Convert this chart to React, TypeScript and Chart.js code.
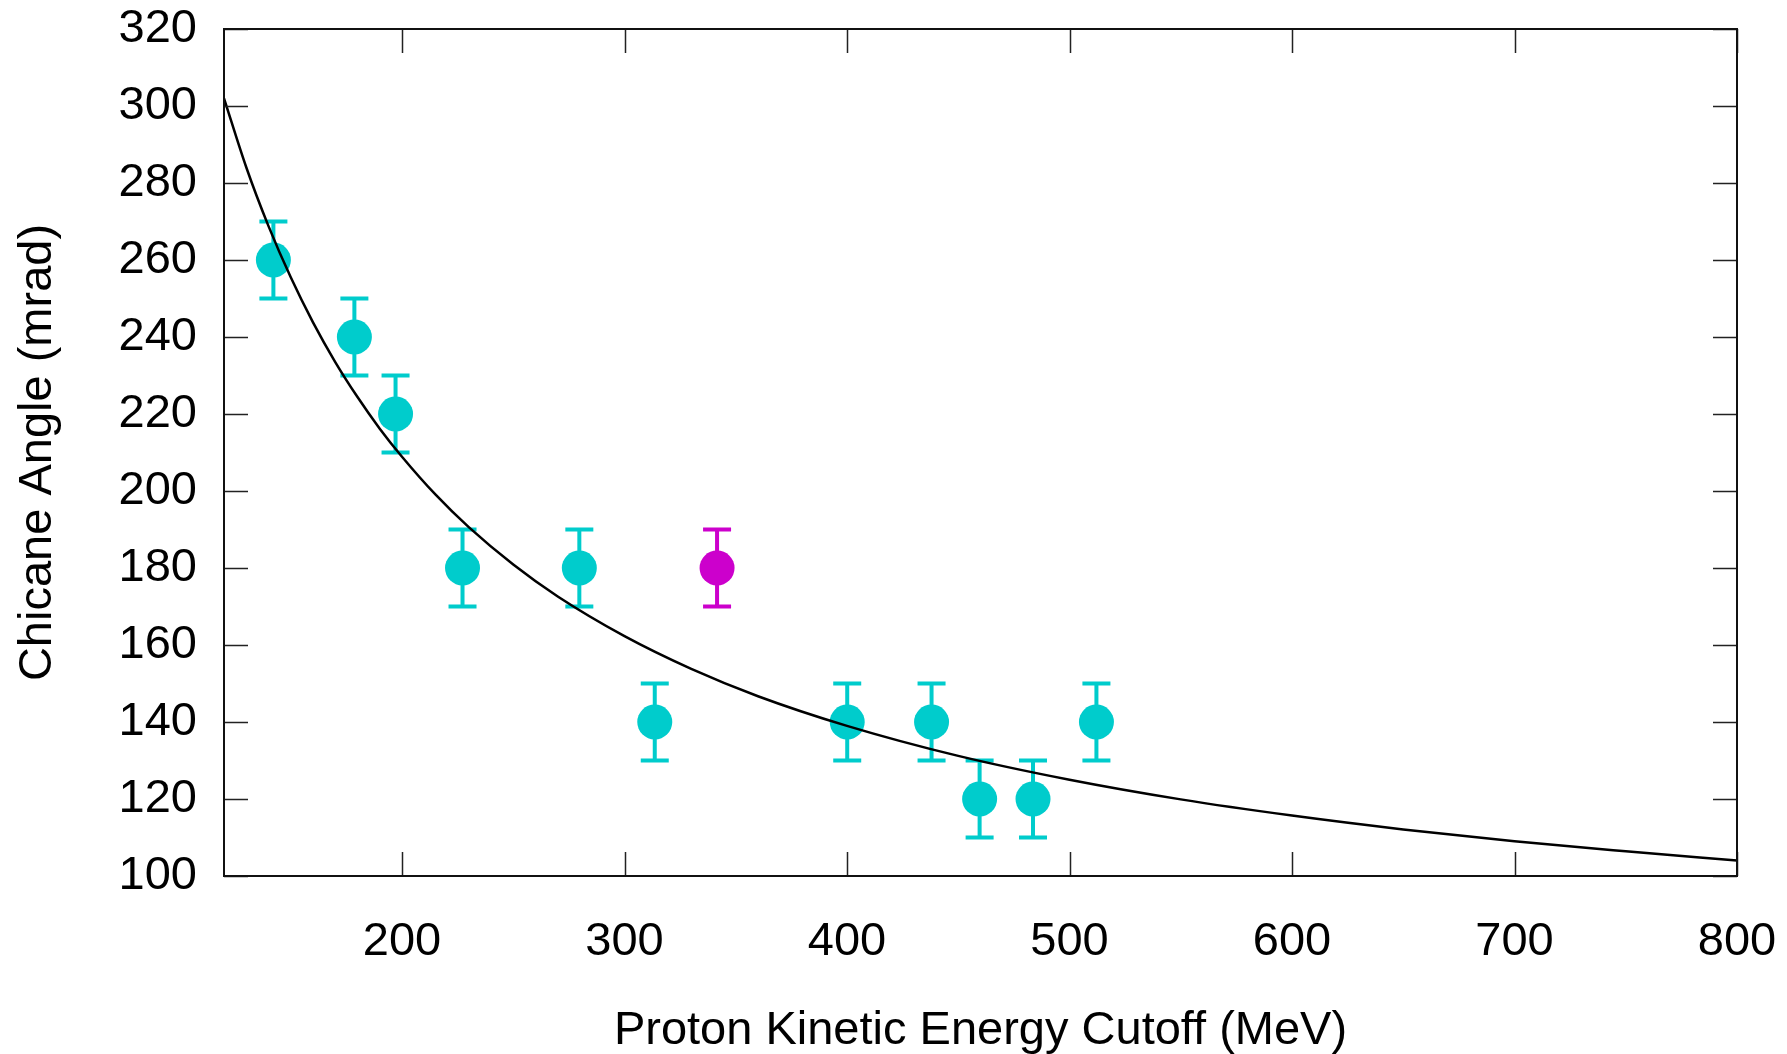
import React, { useEffect, useRef } from 'react';
import { Chart, registerables } from 'chart.js';

Chart.register(...registerables);

// ---- data ----
const energyCyan = [142.2, 178.6, 197.1, 227.2, 279.7, 313.6, 400.1, 438.0, 459.6, 483.6, 512.1];
const angleCyan = [260, 240, 220, 180, 180, 140, 140, 140, 120, 120, 140];
const errorCyan = [10, 10, 10, 10, 10, 10, 10, 10, 10, 10, 10];

const energyMagenta = [341.6];
const angleMagenta = [180];
const errorMagenta = [10];

const fitEnergy = [120, 130, 140, 150, 160, 170, 180, 190, 200, 215, 230, 250, 270, 300, 330, 360, 400, 450, 500, 550, 600, 650, 700, 750, 800];
const fitAngle = [302.0, 284.1, 268.8, 255.5, 243.8, 233.5, 224.4, 216.2, 208.9, 199.1, 190.6, 180.9, 172.6, 162.3, 153.8, 146.7, 139.0, 131.2, 125.0, 119.9, 115.7, 112.1, 109.0, 106.4, 104.0];

const xTickValues = [200, 300, 400, 500, 600, 700, 800];
const yTickValues = [100, 120, 140, 160, 180, 200, 220, 240, 260, 280, 300, 320];

const xAxisTitle = 'Proton Kinetic Energy Cutoff (MeV)';
const yAxisTitle = 'Chicane Angle (mrad)';

const CYAN = 'rgb(0,204,204)';
const MAGENTA = 'rgb(204,0,204)';
const FONT = '"Liberation Sans", Arial, Helvetica, sans-serif';

const W = 1787;
const H = 1054;

const errorBarPlugin = {
  id: 'errorBars',
  beforeDatasetsDraw(chart: any) {
    const { ctx, scales } = chart;
    const xs = scales.x;
    const ys = scales.y;
    chart.data.datasets.forEach((ds: any) => {
      if (!ds.errors) return;
      ctx.save();
      ctx.strokeStyle = ds.backgroundColor;
      ctx.lineWidth = 4;
      ctx.lineCap = 'butt';
      ds.data.forEach((p: any, i: number) => {
        const e = ds.errors[i];
        const px = xs.getPixelForValue(p.x);
        const top = ys.getPixelForValue(p.y + e);
        const bot = ys.getPixelForValue(p.y - e);
        const cap = 14;
        ctx.beginPath();
        ctx.moveTo(px, top);
        ctx.lineTo(px, bot);
        ctx.moveTo(px - cap, top);
        ctx.lineTo(px + cap, top);
        ctx.moveTo(px - cap, bot);
        ctx.lineTo(px + cap, bot);
        ctx.stroke();
      });
      ctx.restore();
    });
  },
};

const framePlugin = {
  id: 'frameTicks',
  afterDraw(chart: any) {
    const { ctx, chartArea, scales } = chart;
    const { left, right, top, bottom } = chartArea;
    const tl = 24;
    ctx.save();
    ctx.strokeStyle = '#222';
    ctx.lineWidth = 1.5;
    ctx.beginPath();
    xTickValues.forEach((v) => {
      const px = Math.round(scales.x.getPixelForValue(v)) + 0.5;
      ctx.moveTo(px, bottom);
      ctx.lineTo(px, bottom - tl);
      ctx.moveTo(px, top);
      ctx.lineTo(px, top + tl);
    });
    yTickValues.forEach((v) => {
      const py = Math.round(scales.y.getPixelForValue(v)) + 0.5;
      ctx.moveTo(left, py);
      ctx.lineTo(left + tl, py);
      ctx.moveTo(right, py);
      ctx.lineTo(right - tl, py);
    });
    ctx.stroke();
    ctx.strokeStyle = '#111';
    ctx.lineWidth = 2;
    ctx.strokeRect(left, top, right - left, bottom - top);
    ctx.restore();
  },
};

const zeroScalePadding = (s: any) => {
  s.paddingTop = 0;
  s.paddingBottom = 0;
  s.paddingLeft = 0;
  s.paddingRight = 0;
};

export default function App() {
  const canvasRef = useRef<HTMLCanvasElement | null>(null);

  useEffect(() => {
    const canvas = canvasRef.current;
    if (!canvas) return;

    const chart = new Chart(canvas, {
      type: 'scatter',
      data: {
        datasets: [
          {
            label: 'fit',
            data: fitEnergy.map((x, i) => ({ x, y: fitAngle[i] })),
            showLine: true,
            borderColor: '#000',
            borderWidth: 2.5,
            pointRadius: 0,
            cubicInterpolationMode: 'monotone',
            fill: false,
          } as any,
          {
            label: 'data',
            data: energyCyan.map((x, i) => ({ x, y: angleCyan[i] })),
            backgroundColor: CYAN,
            borderColor: CYAN,
            borderWidth: 0,
            pointRadius: 17.5,
            errors: errorCyan,
          } as any,
          {
            label: 'outlier',
            data: energyMagenta.map((x, i) => ({ x, y: angleMagenta[i] })),
            backgroundColor: MAGENTA,
            borderColor: MAGENTA,
            borderWidth: 0,
            pointRadius: 17.5,
            errors: errorMagenta,
          } as any,
        ],
      },
      options: {
        animation: false,
        responsive: false,
        devicePixelRatio: 1,
        events: [],
        layout: { padding: { top: 29, right: 50, left: 0, bottom: 0 } },
        plugins: {
          legend: { display: false },
          tooltip: { enabled: false },
        },
        scales: {
          x: {
            type: 'linear',
            min: 120,
            max: 800,
            grid: { display: false, drawTicks: false },
            border: { display: false },
            afterBuildTicks: (s: any) => {
              s.ticks = xTickValues.map((v) => ({ value: v }));
            },
            afterFit: (s: any) => {
              s.height = H - 876;
              zeroScalePadding(s);
            },
            ticks: {
              padding: 38,
              color: '#000',
              maxRotation: 0,
              autoSkip: false,
              font: { family: FONT, size: 47 },
            },
            title: {
              display: true,
              text: xAxisTitle,
              color: '#000',
              font: { family: FONT, size: 47, lineHeight: 1 },
              padding: { top: 0, bottom: -1 },
            },
          },
          y: {
            type: 'linear',
            min: 100,
            max: 320,
            grid: { display: false, drawTicks: false },
            border: { display: false },
            afterBuildTicks: (s: any) => {
              s.ticks = yTickValues.map((v) => ({ value: v }));
            },
            afterFit: (s: any) => {
              s.width = 224;
              zeroScalePadding(s);
            },
            ticks: {
              padding: 27,
              color: '#000',
              autoSkip: false,
              font: { family: FONT, size: 47 },
            },
            title: {
              display: true,
              text: yAxisTitle,
              color: '#000',
              font: { family: FONT, size: 47, lineHeight: 1 },
              padding: { top: 15, bottom: 0 },
            },
          },
        },
      },
      plugins: [errorBarPlugin, framePlugin],
    });

    return () => {
      chart.destroy();
    };
  }, []);

  return (
    <div style={{ position: 'fixed', left: 0, top: 0, width: W, height: H, background: '#fff' }}>
      <canvas ref={canvasRef} width={W} height={H} style={{ display: 'block', width: W, height: H }} />
    </div>
  );
}
